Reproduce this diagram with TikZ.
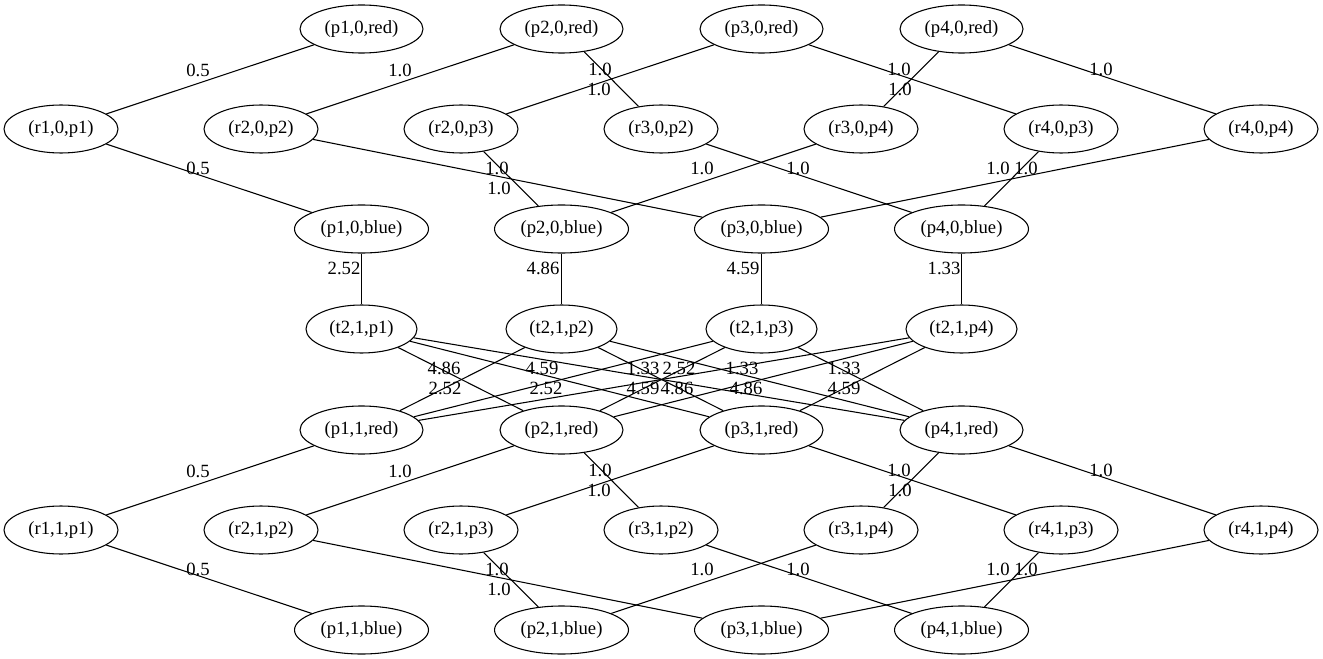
\documentclass[tikz,border=0pt]{standalone}
\usepackage{fontspec}
\setmainfont{Liberation Serif}
\usetikzlibrary{shapes.geometric}

\begin{document}
\begin{tikzpicture}[x=0.75pt,y=-0.75pt,line width=0.8pt,
    font=\fontsize{14}{17}\selectfont,
    state/.style={draw,ellipse,inner sep=0pt,minimum height=36pt},
    rstate/.style={state,minimum width=85.5pt},
    redstate/.style={state,minimum width=92.25pt},
    bluestate/.style={state,minimum width=100.5pt},
    tstate/.style={state,minimum width=83.25pt},
    weight/.style={inner sep=0pt}]
%% Connector with its weight
%% 4 params : from, to, weight, weight location
\newcommand{\conn}[4]{
\draw (#1) -- (#2) node[weight] at (#4) {#3};
}

\useasboundingbox (0,0) rectangle (1323,659);

%% the two layers (0 on top, 1 below)
\foreach \k/\dy in {0/0,1/401} {
  \foreach \i in {1,...,4}
    \node[redstate] (p\i-\k-red) at (161.5+200*\i,29+\dy) {(p\i,\k,red)};
  \foreach \r/\p [count=\n] in {1/1,2/2,2/3,3/2,3/4,4/3,4/4}
    \node[rstate] (r\r-\k-p\p) at (200*\n-139,129+\dy) {(r\r,\k,p\p)};
  \foreach \i in {1,...,4}
    \node[bluestate] (p\i-\k-blue) at (161.5+200*\i,229+\dy) {(p\i,\k,blue)};
  % red to r
  \conn{p1-\k-red}{r1-\k-p1}{0.5}{198,70+\dy}
  \conn{p2-\k-red}{r2-\k-p2}{1.0}{400,70+\dy}
  \conn{p2-\k-red}{r3-\k-p2}{1.0}{600,69+\dy}
  \conn{p3-\k-red}{r2-\k-p3}{1.0}{599,89+\dy}
  \conn{p3-\k-red}{r4-\k-p3}{1.0}{899,69+\dy}
  \conn{p4-\k-red}{r3-\k-p4}{1.0}{900,89+\dy}
  \conn{p4-\k-red}{r4-\k-p4}{1.0}{1101,69+\dy}
  % r to blue
  \conn{r1-\k-p1}{p1-\k-blue}{0.5}{198,168+\dy}
  \conn{r2-\k-p2}{p3-\k-blue}{1.0}{499,188+\dy}
  \conn{r2-\k-p3}{p2-\k-blue}{1.0}{497,168+\dy}
  \conn{r3-\k-p2}{p4-\k-blue}{1.0}{798,168+\dy}
  \conn{r3-\k-p4}{p2-\k-blue}{1.0}{702,168+\dy}
  \conn{r4-\k-p3}{p4-\k-blue}{1.0}{1026,168+\dy}
  \conn{r4-\k-p4}{p3-\k-blue}{1.0}{998,168+\dy}
}

%% transitions
\foreach \i in {1,...,4}
  \node[tstate] (t2-1-p\i) at (161.5+200*\i,329) {(t2,1,p\i)};
\foreach \i/\w/\lx in {1/2.52/344,2/4.86/543,3/4.59/743,4/1.33/944} {
  \conn{p\i-0-blue}{t2-1-p\i}{\w}{\lx,268}
}

\conn{t2-1-p1}{p2-1-red}{4.86}{444,368}
\conn{t2-1-p1}{p3-1-red}{4.59}{542,368}
\conn{t2-1-p1}{p4-1-red}{1.33}{643,368}
\conn{t2-1-p2}{p1-1-red}{2.52}{445,388}
\conn{t2-1-p2}{p3-1-red}{4.59}{643,388}
\conn{t2-1-p2}{p4-1-red}{1.33}{742,368}
\conn{t2-1-p3}{p1-1-red}{2.52}{546,388}
\conn{t2-1-p3}{p2-1-red}{4.86}{677,388}
\conn{t2-1-p3}{p4-1-red}{1.33}{844,368}
\conn{t2-1-p4}{p1-1-red}{2.52}{679,368}
\conn{t2-1-p4}{p2-1-red}{4.86}{746,388}
\conn{t2-1-p4}{p3-1-red}{4.59}{844,388}
\end{tikzpicture}
\end{document}
